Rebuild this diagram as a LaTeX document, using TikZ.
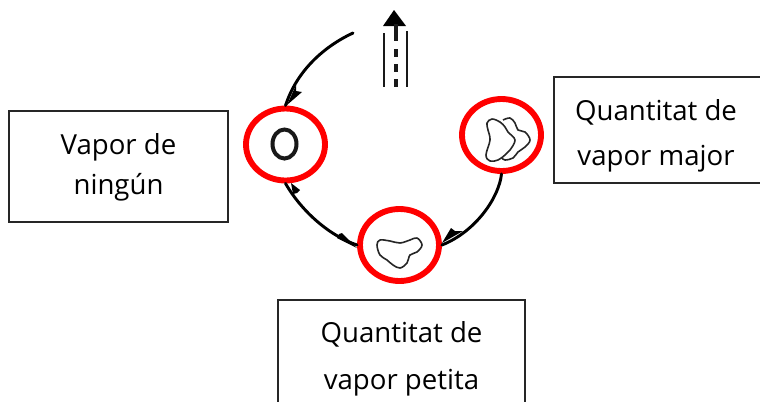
\documentclass[tikz,border=0pt]{standalone}
\usepackage{fontspec}
\setmainfont{Open Sans}
\usetikzlibrary{shapes.geometric,arrows.meta}
\newdimen\pxu \pxu=0.75pt
\tikzset{
 label box/.style={draw=black!85,line width=0.9pt,fill=white,inner sep=0pt},
 label text/.style={inner sep=0pt,align=center},
 ring/.style={ellipse,draw={rgb,255:red,255;green,0;blue,0},line width=4.4pt,minimum width=79\pxu,minimum height=72\pxu,inner sep=0pt},
 link/.style={line width=2.2pt,line cap=round,black},
 wedge/.style={fill=black,draw=none},
 blob/.style={line width=1.2pt,black!85,line join=round,fill=none},
 lane/.style={line width=2.2pt,black!90},
 dash piece/.style={line width=3pt,black!90},
}
\begin{document}
\begin{tikzpicture}[x=0.75pt,y=-0.75pt]
\useasboundingbox (0,0) rectangle (760,401);
\fill[white] (0,0) rectangle (760,401);
% label boxes
\node[label box,minimum width=219\pxu,minimum height=111\pxu] (none) at (118.5,166.5) {};
\node[label text,font=\fontsize{20.7pt}{30pt}\selectfont] at (118.5,167.5) {Vapor de\\ningún};
\node[label box,minimum width=220\pxu,minimum height=106\pxu] (major) at (664,130) {};
\node[label text,font=\fontsize{20.7pt}{34pt}\selectfont] at (656,136) {Quantitat de\\vapor major};
\node[label box,minimum width=247\pxu,minimum height=110\pxu] (minor) at (401.5,355) {};
\node[label text,font=\fontsize{20.7pt}{35pt}\selectfont] at (401.5,359) {Quantitat de\\vapor petita};
% rings
\node[ring] (rL) at (285.5,144.5) {};
\node[ring] (rR) at (501.5,135) {};
\node[ring] (rB) at (399.5,245) {};
% free end
\coordinate (start) at (353,33);
% connectors
\draw[link] (start) .. controls (325,46) and (297,70) .. (rL.north);
\draw[link] (rR.south) .. controls (499,198) and (475,232) .. (rB.east);
\draw[link] (rB.west) .. controls (330,236) and (302,212) .. (rL.south);
% wedges
\fill[wedge] (287,105) -- (296,85) -- (296,91) -- (302,92) -- cycle;
\fill[wedge] (442,243) -- (451,228) -- (455,231) -- (463,231) -- cycle;
\fill[wedge] (357,248) -- (337,238) -- (339,234) -- (342,233) -- cycle;
\fill[wedge] (291,183) -- (300,190) -- (297,193) -- (293,194) -- cycle;
% road
\coordinate (roadtip) at (394,10);
\fill[wedge] (roadtip) -- (406,26) -- (383,26) -- cycle;
\draw[lane] (384,33) -- (384,87);
\draw[lane] (407,31) -- (407,87);
\draw[dash piece] (395.5,24) -- (395.5,41);
\draw[dash piece] (396,49) -- (396,57);
\draw[dash piece] (396,64) -- (396,72);
\draw[dash piece] (396,79) -- (396,87);
% blob shapes
\draw[line width=3pt,black!90] (284.5,144) ellipse (12 and 14.5);
\draw[blob] plot[smooth cycle,tension=0.6] coordinates {(487,123)(492,119)(500,122)(505,127)(508,132)(515,140)(510,150)(505,155)(498,160)(490,161)(486,155)(490,140)(488,130)};
\draw[blob] plot[smooth,tension=0.6] coordinates {(503,120)(510,118)(515,123)(518,130)(525,132)(530,140)(525,147)(518,152)(513,158)(505,160)(502,158)};
\draw[blob] plot[smooth cycle,tension=0.6] coordinates {(377,245)(380,240)(390,241)(400,243)(410,240)(417,238)(422,245)(417,252)(410,255)(407,263)(400,268)(393,265)(387,260)(380,255)};
\end{tikzpicture}
\end{document}
